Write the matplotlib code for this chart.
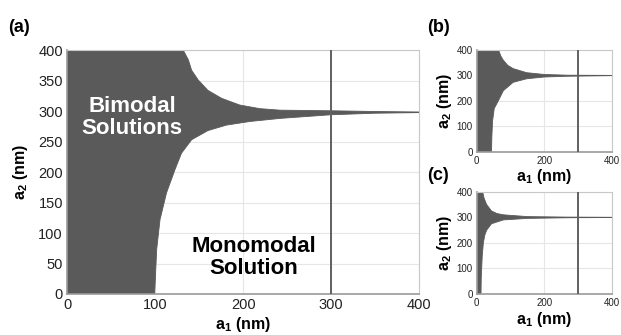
import matplotlib
matplotlib.use("Agg")
import matplotlib.pyplot as plt

plt.rcParams['font.family'] = ['Liberation Sans', 'DejaVu Sans']
plt.rcParams['mathtext.fontset'] = 'custom'
plt.rcParams['mathtext.rm'] = 'Liberation Sans'
plt.rcParams['mathtext.bf'] = 'Liberation Sans:bold'

# boundary of the bimodal region (a1 in nm, a2 in nm)
# panel (a)
a_lo_x = [99.5, 101.8, 105.6, 113, 122.6, 130, 141.5, 160, 181, 208, 242, 300, 350, 400]
a_lo_y = [0, 73, 122, 166, 204, 231, 253, 268, 277, 283, 288, 294, 296.5, 297.5]
a_hi_x = [132, 137.8, 141.5, 149, 160, 175.5, 196, 219, 242, 300, 350, 400]
a_hi_y = [400, 384, 367, 351, 334, 321, 310, 304, 301.5, 300.5, 299.3, 298.4]
# panel (b)
b_lo_x = [44, 45, 47, 52, 64, 79, 108, 148, 200, 270, 400]
b_lo_y = [0, 60, 120, 170, 200, 240, 273, 287, 294, 297, 299.3]
b_hi_x = [65, 72, 79, 92, 108, 148, 200, 270, 400]
b_hi_y = [400, 375, 360, 340, 327, 311, 304, 301, 300.3]
# panel (c)
c_lo_x = [12.8, 13.5, 14.8, 16.5, 19.8, 24, 29.6, 44, 79, 150, 270, 400]
c_lo_y = [0, 60, 100, 150, 200, 230, 250, 275, 290, 296, 298.5, 299.5]
c_hi_x = [17.7, 22, 29.6, 44, 60, 79, 150, 270, 400]
c_hi_y = [400, 375, 350, 325, 315, 310, 303, 301, 300.3]

period = 300  # vertical line

fill_col = '#5a5a5a'
line_col = '#606060'
grid_col = '#e6e6e6'
spine_col = '#9a9a9a'


def draw_panel(ax, lo_x, lo_y, hi_x, hi_y, xticks, yticks, tick_fs):
    px = [0] + lo_x + hi_x[::-1] + [0]
    py = [0] + lo_y + hi_y[::-1] + [400]
    ax.fill(px, py, color=fill_col, lw=0.6, zorder=2)
    ax.axvline(period, color=line_col, lw=1.4, zorder=3)
    ax.set_xlim(0, 400)
    ax.set_ylim(0, 400)
    ax.set_xticks(xticks)
    ax.set_yticks(yticks)
    ax.grid(True, color=grid_col, lw=0.8, zorder=0)
    ax.set_axisbelow(True)
    ax.tick_params(direction='in', length=0, labelsize=tick_fs, pad=3,
                   colors='#222222')
    for s in ax.spines.values():
        s.set_color('#c8c8c8')
        s.set_linewidth(0.8)
    for s in ('left', 'bottom'):
        ax.spines[s].set_color(spine_col)
        ax.spines[s].set_linewidth(1.2)


fig = plt.figure(figsize=(6.21, 3.35), dpi=100)

ax_a = fig.add_axes([0.108, 0.1224, 0.567, 0.728])
draw_panel(ax_a, a_lo_x, a_lo_y, a_hi_x, a_hi_y,
           [0, 100, 200, 300, 400], list(range(0, 401, 50)), 10.5)
ax_a.set_xlabel(r'$\mathbf{a_1}$ (nm)', fontsize=11.5, fontweight='bold', labelpad=2)
ax_a.set_ylabel(r'$\mathbf{a_2}$ (nm)', fontsize=11.5, fontweight='bold', labelpad=6)
ax_a.text(74, 290, 'Bimodal\nSolutions', color='white', fontsize=16,
          fontweight='bold', ha='center', va='center', linespacing=1.05, zorder=4)
ax_a.text(212, 60, 'Monomodal\nSolution', color='black', fontsize=16,
          fontweight='bold', ha='center', va='center', linespacing=1.05, zorder=4)

ax_b = fig.add_axes([0.7676, 0.547, 0.2174, 0.3036])
draw_panel(ax_b, b_lo_x, b_lo_y, b_hi_x, b_hi_y,
           [0, 200, 400], [0, 100, 200, 300, 400], 7)
ax_b.set_xlabel(r'$\mathbf{a_1}$ (nm)', fontsize=11.5, fontweight='bold', labelpad=1)
ax_b.set_ylabel(r'$\mathbf{a_2}$ (nm)', fontsize=11.5, fontweight='bold', labelpad=2)

ax_c = fig.add_axes([0.7676, 0.1224, 0.2174, 0.305])
draw_panel(ax_c, c_lo_x, c_lo_y, c_hi_x, c_hi_y,
           [0, 200, 400], [0, 100, 200, 300, 400], 7)
ax_c.set_xlabel(r'$\mathbf{a_1}$ (nm)', fontsize=11.5, fontweight='bold', labelpad=1)
ax_c.set_ylabel(r'$\mathbf{a_2}$ (nm)', fontsize=11.5, fontweight='bold', labelpad=2)

fig.text(0.013, 0.918, '(a)', fontsize=13, fontweight='bold', va='center')
fig.text(0.687, 0.918, '(b)', fontsize=13, fontweight='bold', va='center')
fig.text(0.687, 0.477, '(c)', fontsize=13, fontweight='bold', va='center')

fig.savefig('out.png', dpi=100)
